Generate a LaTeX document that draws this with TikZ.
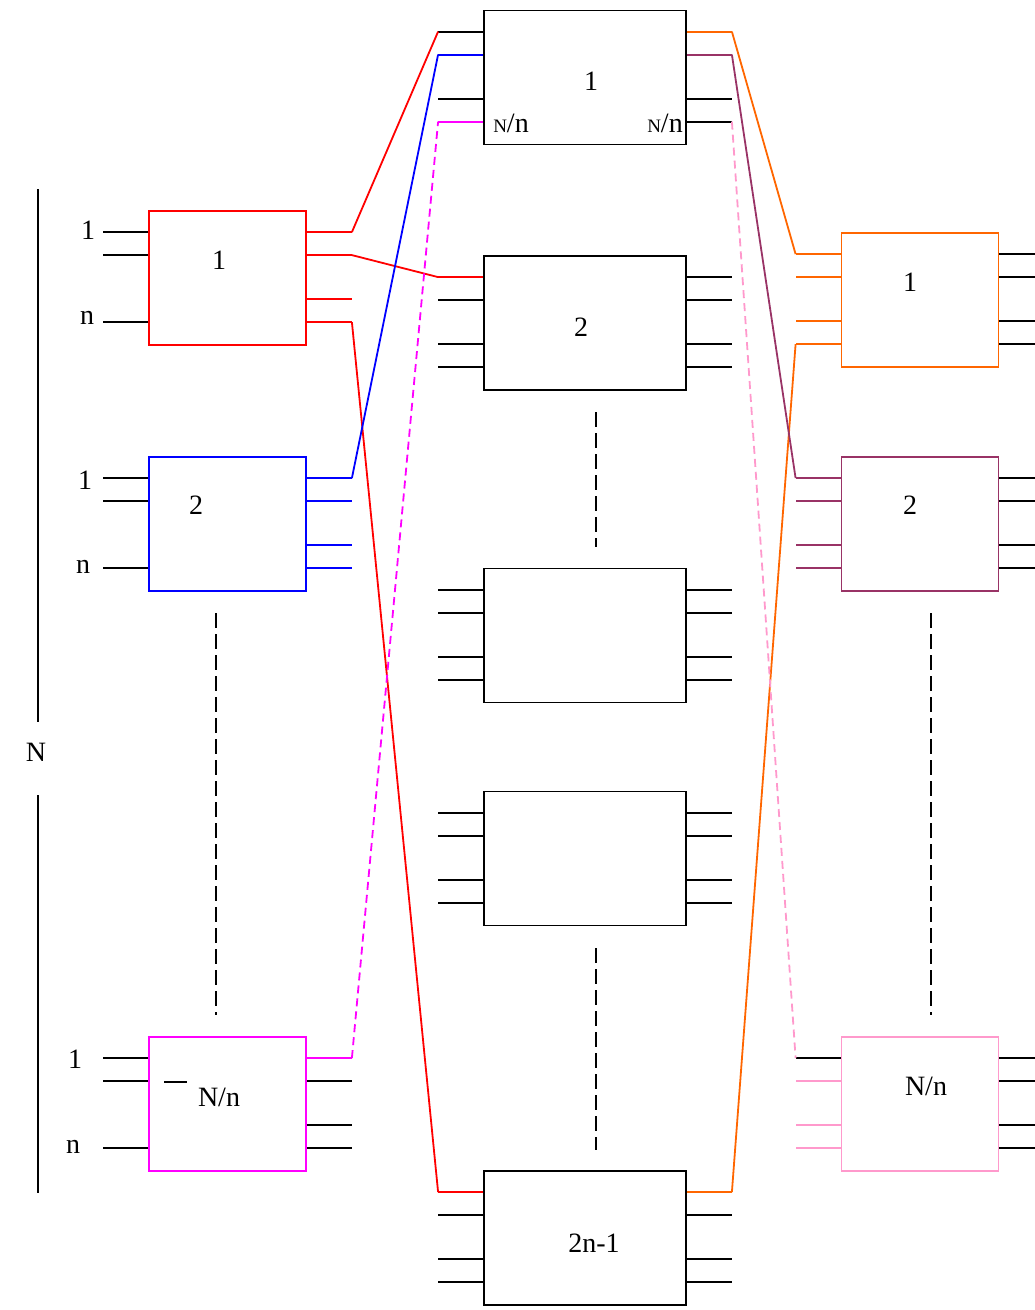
\documentclass[tikz,border=0pt]{standalone}
\usepackage{fontspec}
\setmainfont{Liberation Serif}
\definecolor{corange}{RGB}{255,102,0}
\definecolor{cpurple}{RGB}{153,51,102}
\definecolor{cpink}{RGB}{255,153,204}
\definecolor{cmag}{RGB}{255,0,255}
\begin{document}
\begin{tikzpicture}[x=1pt,y=-1pt,line width=1.8pt,
  box/.style={draw,rectangle,inner sep=0pt,minimum height=134pt},
  sbox/.style={box,minimum width=157pt},
  mbox/.style={box,minimum width=202pt},
  lbl/.style={inner sep=0pt,font=\fontsize{28}{30}\selectfont},
  vdash/.style={dash pattern=on 15pt off 6pt},
  cdash/.style={dash pattern=on 8pt off 5pt}]
\useasboundingbox (0,0) rectangle (1035,1310);

% boxes
\node[sbox,draw=red]     (L1) at (227.5,278) {};
\node[sbox,draw=blue]    (L2) at (227.5,524) {};
\node[sbox,draw=cmag]    (L3) at (227.5,1104) {};
\node[mbox]              (M1) at (585,77.5) {};
\node[mbox]              (M2) at (585,323) {};
\node[mbox]              (M3) at (585,635.5) {};
\node[mbox]              (M4) at (585,858.5) {};
\node[mbox]              (M5) at (585,1238) {};
\node[sbox,draw=corange] (R1) at (920,300) {};
\node[sbox,draw=cpurple] (R2) at (920,524) {};
\node[sbox,draw=cpink]   (R3) at (920,1104) {};

% stub coordinates
\foreach \b in {L1,L2,L3,M1,M2,M3,M4,M5,R1,R2,R3}{
  \foreach \i/\d in {1/22,2/45,3/89,4/112}{
    \path (\b.north west) ++(0,\d) coordinate (\b-li\i) ++(-45,0) coordinate (\b-lo\i);
    \path (\b.north east) ++(0,\d) coordinate (\b-ri\i) ++(45,0) coordinate (\b-ro\i);
  }
}

% left boxes: inputs
\foreach \b in {L1,L2,L3}
  \foreach \i in {1,2,4}
    \draw (\b-li\i) -- (\b-lo\i);
% left boxes: outputs
\foreach \i in {1,...,4}{
  \draw[red]  (L1-ri\i) -- (L1-ro\i);
  \draw[blue] (L2-ri\i) -- (L2-ro\i);
}
\draw[cmag] (L3-ri1) -- (L3-ro1);
\foreach \i in {2,3,4} \draw (L3-ri\i) -- (L3-ro\i);
\coordinate (s1) at (164,1082);
\coordinate (s2) at (187,1082);
\draw (s1) -- (s2);

% middle boxes
\foreach \b in {M1,M2,M3,M4,M5}
  \foreach \i in {1,...,4}{
    \draw (\b-li\i) -- (\b-lo\i);
    \draw (\b-ri\i) -- (\b-ro\i);
  }
\draw[blue]    (M1-li2) -- (M1-lo2);
\draw[cmag]    (M1-li4) -- (M1-lo4);
\draw[red]     (M2-li1) -- (M2-lo1);
\draw[red]     (M5-li1) -- (M5-lo1);
\draw[corange] (M1-ri1) -- (M1-ro1);
\draw[cpurple] (M1-ri2) -- (M1-ro2);
\draw[corange] (M5-ri1) -- (M5-ro1);

% right boxes
\foreach \b in {R1,R2,R3}
  \foreach \i in {1,...,4}
    \draw (\b-ri\i) -- (\b-ro\i);
\foreach \i in {1,...,4}{
  \draw[corange] (R1-li\i) -- (R1-lo\i);
  \draw[cpurple] (R2-li\i) -- (R2-lo\i);
}
\draw (R3-li1) -- (R3-lo1);
\foreach \i in {2,3,4} \draw[cpink] (R3-li\i) -- (R3-lo\i);

% connectors
\draw[red]  (L1-ro1) -- (M1-lo1);
\draw[red]  (L1-ro2) -- (M2-lo1);
\draw[red]  (L1-ro4) -- (M5-lo1);
\draw[blue] (L2-ro1) -- (M1-lo2);
\draw[cmag,cdash] (L3-ro1) -- (M1-lo4);
\draw[corange] (M1-ro1) -- (R1-lo1);
\draw[corange] (M5-ro1) -- (R1-lo4);
\draw[cpurple] (M1-ro2) -- (R2-lo1);
\draw[cpink,cdash] (M1-ro4) -- (R3-lo1);

% dashed continuation lines
\coordinate (d1a) at (216,613);  \coordinate (d1b) at (216,1015);
\coordinate (d2a) at (596,412);  \coordinate (d2b) at (596,547);
\coordinate (d3a) at (596,948);  \coordinate (d3b) at (596,1150);
\coordinate (d4a) at (931,613);  \coordinate (d4b) at (931,1015);
\draw[vdash] (d1a) -- (d1b);
\draw[vdash] (d2a) -- (d2b);
\draw[vdash] (d3a) -- (d3b);
\draw[vdash] (d4a) -- (d4b);

% N bracket
\node[lbl] (N) at (36,752) {N};
\coordinate (Nt) at (38,189);
\coordinate (Nu) at (38,722);
\coordinate (Nd) at (38,795);
\coordinate (Nb) at (38,1193);
\draw (Nt) -- (Nu);
\draw (Nd) -- (Nb);

% labels
\node[lbl] (tL1) at (219,260) {1};
\node[lbl] (tL1a) at (88,230) {1};
\node[lbl] (tL1b) at (87,318) {n};
\node[lbl] (tL2) at (196,505) {2};
\node[lbl] (tL2a) at (85,480) {1};
\node[lbl] (tL2b) at (83,567) {n};
\node[lbl] (tL3) at (219,1097) {N/n};
\node[lbl] (tL3a) at (75,1059) {1};
\node[lbl] (tL3b) at (73,1147) {n};
\node[lbl] (tM1) at (591,81) {1};
\node[lbl] (tM1a) at (511,123) {{\fontsize{19}{20}\selectfont N}/n};
\node[lbl] (tM1b) at (665,123) {{\fontsize{19}{20}\selectfont N}/n};
\node[lbl] (tM2) at (581,327) {2};
\node[lbl] (tM5) at (594,1243) {2n-1};
\node[lbl] (tR1) at (910,282) {1};
\node[lbl] (tR2) at (910,505) {2};
\node[lbl] (tR3) at (926,1086) {N/n};
\end{tikzpicture}
\end{document}
